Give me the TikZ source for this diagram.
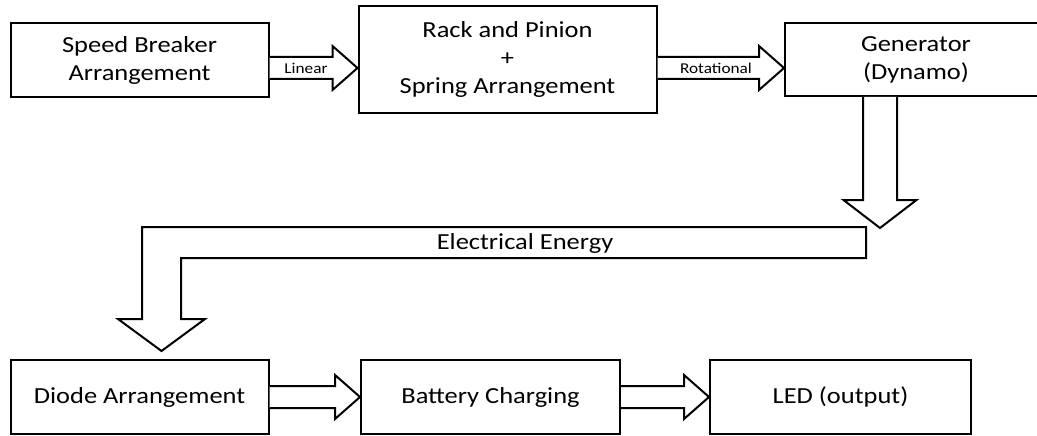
\documentclass[tikz,border=0pt]{standalone}
\usepackage{fontspec}
\setmainfont{Carlito}[FakeStretch=1.15]
\usetikzlibrary{calc}
\tikzset{
  blk/.style={draw, line width=2pt, inner sep=0pt, align=center,
    font=\fontsize{23}{28}\selectfont},
  arr/.style={draw, line width=2pt, line join=miter, fill=white},
  lbl/.style={inner sep=0pt, font=\fontsize{15}{18}\selectfont},
  big/.style={inner sep=0pt, font=\fontsize{23}{28}\selectfont}
}
% horizontal hollow arrow: #1 start, #2 tip
\newcommand\harrow[2]{%
  \draw[arr] ($(#1)+(0,-11)$) -- ($(#2)+(-25,-11)$) -- ($(#2)+(-25,-22)$)
    -- (#2) -- ($(#2)+(-25,22)$) -- ($(#2)+(-25,11)$) -- ($(#1)+(0,11)$);}
\begin{document}
\begin{tikzpicture}[x=1pt,y=-1pt]
\useasboundingbox (0,0) rectangle (1037,436);

% top row
\node[blk, minimum width=258, minimum height=74] (b1) at (139.5,60)
  {Speed Breaker\\Arrangement};
\node[blk, minimum width=298, minimum height=107] (b2) at (507.5,59.5)
  {Rack and Pinion\\+\\Spring Arrangement};
\node[blk, minimum width=262, minimum height=73] (b3) at (916,59.5)
  {Generator\\(Dynamo)};

% bottom row
\node[blk, minimum width=258, minimum height=74] (d) at (139.5,397)
  {Diode Arrangement};
\node[blk, minimum width=259, minimum height=74] (bc) at (490.5,397)
  {Battery Charging};
\node[blk, minimum width=261, minimum height=74] (led) at (840.5,397)
  {LED (output)};

% top arrows
\coordinate (a1s) at ($(b1.east)+(0,8)$);
\coordinate (a1t) at (b2.west |- a1s);
\harrow{a1s}{a1t}
\node[lbl] at (306,68) {Linear};

\coordinate (a2s) at (b2.east |- a1s);
\coordinate (a2t) at (b3.west |- a1s);
\harrow{a2s}{a2t}
\node[lbl] at (716,68) {Rotational};

% bottom arrows
\harrow{d.east}{bc.west}
\harrow{bc.east}{led.west}

% vertical arrow from generator
\coordinate (gs) at (b3.south -| 880,0);
\coordinate (gt) at (880,228);
\draw[arr] ($(gs)+(-17,0)$) -- ($(gt)+(-17,-28)$) -- ($(gt)+(-36.5,-28)$)
  -- (gt) -- ($(gt)+(36.5,-28)$) -- ($(gt)+(17,-28)$) -- ($(gs)+(17,0)$);

% L-shaped band down to diode
\coordinate (dt) at ($(d.north -| 161.5,0)+(0,-8)$);
\draw[arr] (866,227) -- (142,227) -- ($(dt)+(-19.5,-32)$)
  -- ($(dt)+(-43.5,-32)$) -- (dt) -- ($(dt)+(43.5,-32)$)
  -- ($(dt)+(19.5,-32)$) -- (181,258) -- (866,258) -- cycle;
\node[big] (ee) at (525,243) {Electrical Energy};
\end{tikzpicture}
\end{document}
